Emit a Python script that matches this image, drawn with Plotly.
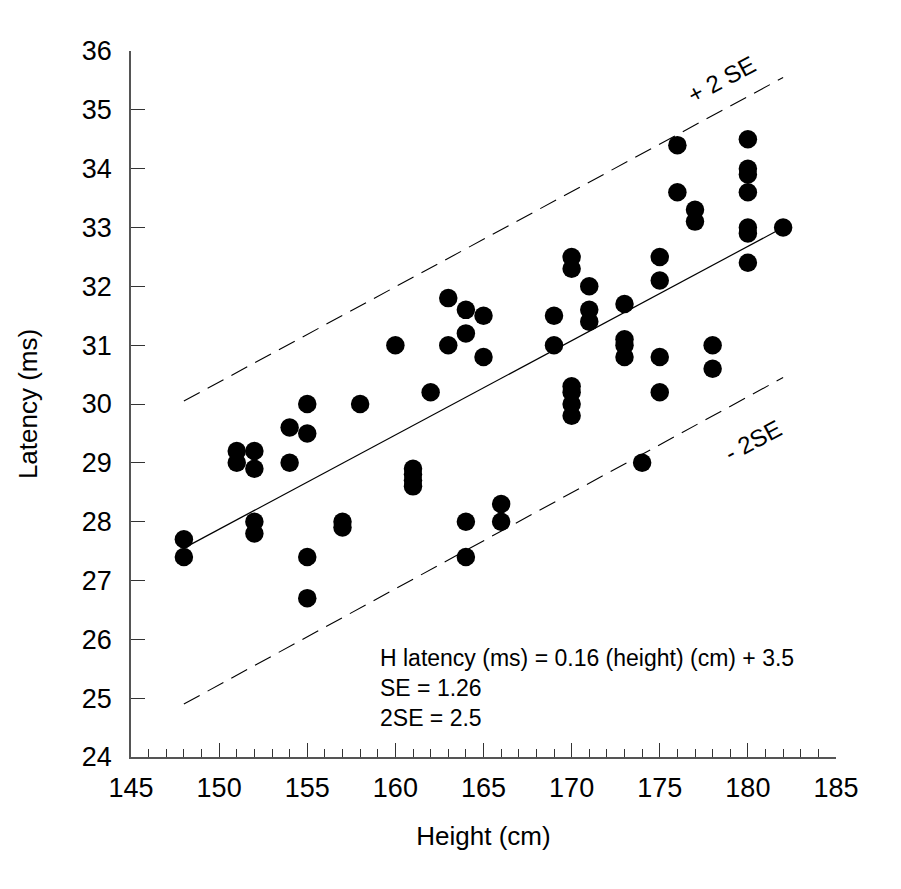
import plotly.graph_objects as go

# Data
height_cm = [148, 148,
             151, 151,
             152, 152, 152, 152,
             154, 154,
             155, 155, 155, 155,
             157, 157,
             158,
             160,
             161, 161, 161, 161,
             162,
             163, 163,
             164, 164, 164, 164,
             165, 165,
             166, 166,
             169, 169,
             170, 170, 170, 170, 170, 170,
             171, 171, 171,
             173, 173, 173, 173,
             174,
             175, 175, 175, 175,
             176, 176,
             177, 177,
             178, 178,
             180, 180, 180, 180, 180, 180, 180,
             182]
latency_ms = [27.7, 27.4,
              29.2, 29.0,
              29.2, 28.9, 28.0, 27.8,
              29.6, 29.0,
              30.0, 29.5, 27.4, 26.7,
              28.0, 27.9,
              30.0,
              31.0,
              28.9, 28.8, 28.7, 28.6,
              30.2,
              31.8, 31.0,
              31.6, 31.2, 28.0, 27.4,
              31.5, 30.8,
              28.3, 28.0,
              31.5, 31.0,
              32.5, 32.3, 30.3, 30.2, 30.0, 29.8,
              32.0, 31.6, 31.4,
              31.7, 31.1, 31.0, 30.8,
              29.0,
              32.5, 32.1, 30.8, 30.2,
              34.4, 33.6,
              33.3, 33.1,
              31.0, 30.6,
              34.5, 34.0, 33.9, 33.6, 33.0, 32.9, 32.4,
              33.0]

fit_x = [148, 182]
fit_y = [27.55, 33.0]
upper_y = [30.05, 35.55]
lower_y = [24.9, 30.45]

x_ticks = [145, 150, 155, 160, 165, 170, 175, 180, 185]
y_ticks = [24, 25, 26, 27, 28, 29, 30, 31, 32, 33, 34, 35, 36]

FONT = "Liberation Sans, Arial, Helvetica, sans-serif"

fig = go.Figure()
fig.add_trace(go.Scatter(x=fit_x, y=upper_y, mode="lines",
                         line=dict(color="black", width=1.1, dash="18px,9px")))
fig.add_trace(go.Scatter(x=fit_x, y=lower_y, mode="lines",
                         line=dict(color="black", width=1.1, dash="18px,9px")))
fig.add_trace(go.Scatter(x=fit_x, y=fit_y, mode="lines",
                         line=dict(color="black", width=1.2)))
fig.add_trace(go.Scatter(x=height_cm, y=latency_ms, mode="markers",
                         marker=dict(color="black", size=18.5, line=dict(width=0)),
                         cliponaxis=False))

fig.add_annotation(x=178.5, y=35.52, text="+ 2 SE", showarrow=False,
                   textangle=-28, font=dict(size=24, color="black", family=FONT))
fig.add_annotation(x=180.3, y=29.38, text="- 2SE", showarrow=False,
                   textangle=-28, font=dict(size=24, color="black", family=FONT))
fig.add_annotation(x=159.0, y=25.93, xanchor="left", yanchor="top", align="left",
                   text="H latency (ms) = 0.16 (height) (cm) + 3.5<br>SE = 1.26<br>2SE = 2.5",
                   showarrow=False, font=dict(size=23, color="black", family=FONT))

fig.update_layout(
    width=901, height=889,
    margin=dict(l=123, r=73, t=43, b=140),
    paper_bgcolor="white", plot_bgcolor="white",
    showlegend=False,
    font=dict(family=FONT, color="black"),
    xaxis=dict(range=[145, 185], tickvals=x_ticks, showgrid=False, zeroline=False,
               showline=True, linecolor="#555", linewidth=1.5,
               ticks="inside", ticklen=14, tickcolor="#333", tickwidth=1.2,
               minor=dict(dtick=1, ticks="inside", ticklen=8, tickcolor="#333", tickwidth=1.2, showgrid=False),
               tickfont=dict(size=27), ticklabelstandoff=6,
               title=dict(text="Height (cm)", font=dict(size=26), standoff=25)),
    yaxis=dict(range=[24, 36], tickvals=y_ticks, showgrid=False, zeroline=False,
               showline=True, linecolor="#555", linewidth=1.5,
               ticks="inside", ticklen=14, tickcolor="#333", tickwidth=1.2,
               tickfont=dict(size=27), ticklabelstandoff=12,
               title=dict(text="Latency (ms)", font=dict(size=26), standoff=37)),
)

fig.write_html("out.html")
